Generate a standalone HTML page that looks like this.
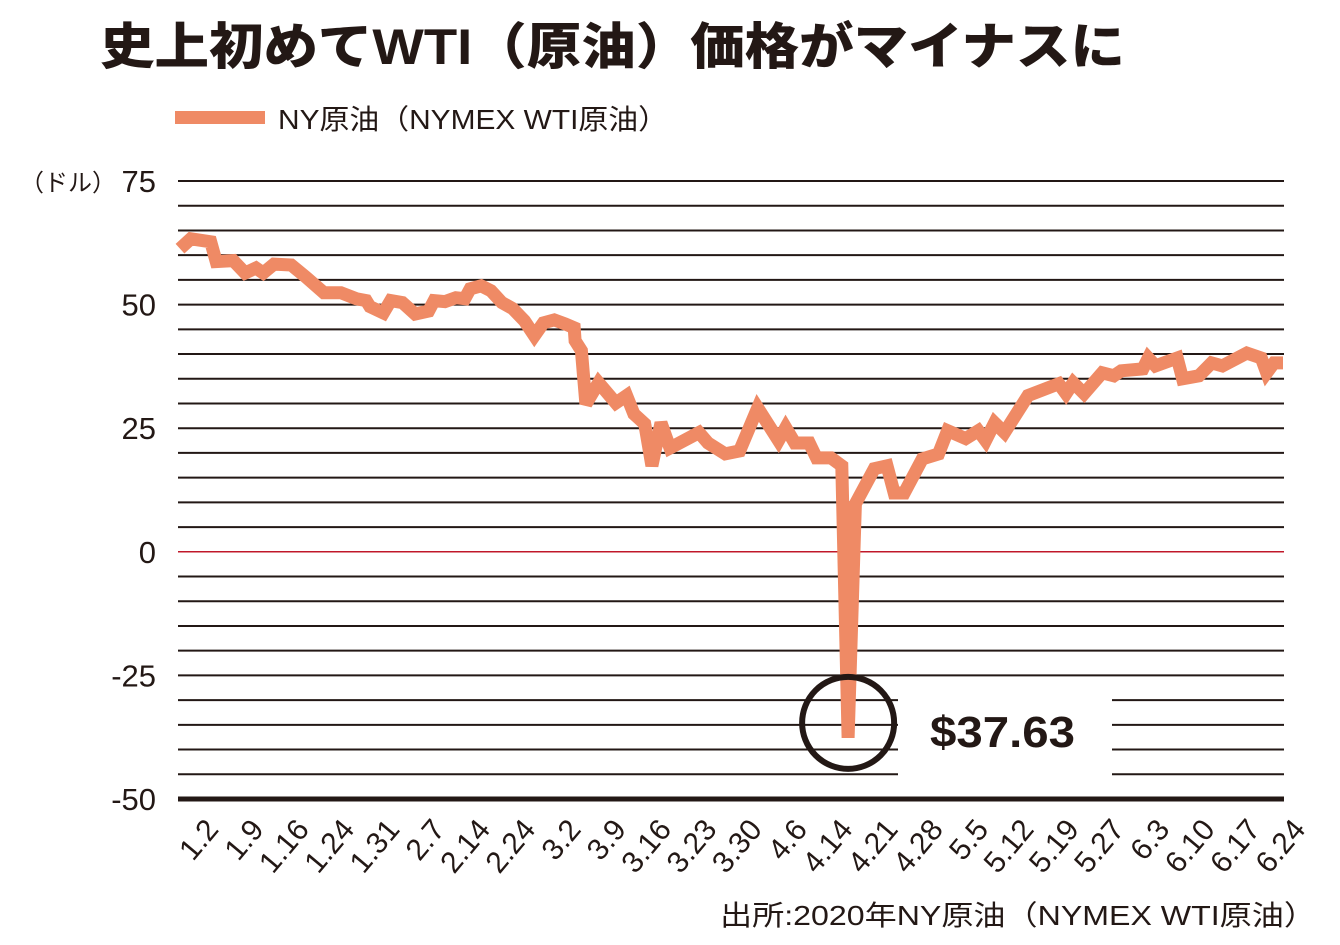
<!DOCTYPE html>
<html><head><meta charset="utf-8">
<style>
html,body{margin:0;padding:0;background:#fff;}
svg{display:block;}
text{font-family:"Liberation Sans","Noto Sans CJK JP",sans-serif;fill:#231815;}
</style></head>
<body>
<svg id="chart" width="1340" height="945" viewBox="0 0 1340 945" xmlns="http://www.w3.org/2000/svg">
<text x="100" y="64" font-size="50" font-weight="bold" style="font-family:'Liberation Sans','Noto Sans CJK JP',sans-serif;font-weight:900" textLength="1025" lengthAdjust="spacingAndGlyphs">史上初めてWTI（原油）価格がマイナスに</text>
<g>
<rect x="175" y="111" width="90" height="13" fill="#ef8a65"/>
<text x="278" y="129" font-size="28" textLength="390" lengthAdjust="spacingAndGlyphs">NY原油（NYMEX WTI原油）</text>
</g>
<text x="20" y="191" font-size="24">（ドル）</text>
<g id="grid"></g>
<g id="yticks"></g>
<g id="xticks"></g>
<g id="series"></g>
<g>
<rect x="898" y="690" width="214" height="88" fill="#fff"/>
<text x="930" y="747" font-size="44" font-weight="bold" textLength="145" lengthAdjust="spacingAndGlyphs">$37.63</text>
</g>
<text x="1316" y="925" font-size="28" text-anchor="end" textLength="596" lengthAdjust="spacingAndGlyphs">出所:2020年NY原油（NYMEX WTI原油）</text>
</svg>
<script>
const days = [0,1.2,3.4,4.0,5.9,7.2,8.4,9.2,10.4,12.3,13.9,15.9,17.8,19.5,20.6,21.0,22.5,23.3,24.6,26.0,27.5,28.1,29.3,30.5,31.5,32.1,33.3,34.4,35.6,36.8,38.1,39.2,40.2,41.4,42.6,43.6,43.7,44.4,44.9,46.3,48.2,49.4,50.2,51.4,52.2,53.2,54.2,57.4,58.4,60.3,61.9,63.9,66.2,67.0,68.0,69.6,70.4,72.0,73.2,73.9,74.7,76.8,78.2,79.0,80.1,82.1,83.9,84.9,86.9,88.3,89.1,90.1,91.2,93.8,97.2,98.0,98.8,100.0,102.0,103.3,104.1,106.5,107.1,107.9,110.3,110.9,112.7,114.1,115.3,118.0,119.6,120.2,121.0,122.0];
const prices = [61.3,63.3,62.7,58.7,58.9,56.4,57.4,56.4,58.2,58.0,55.6,52.4,52.4,51.2,50.8,49.6,48.3,50.8,50.4,48.1,48.7,50.8,50.6,51.4,51.2,53.2,53.8,52.8,50.4,49.2,46.7,43.7,46.3,46.9,46.1,45.3,42.7,40.7,29.9,34.2,30.1,31.6,27.9,25.9,17.4,26.1,21.0,24.1,22.0,19.8,20.4,29.1,22.5,25.1,22.0,22.0,19.0,19.0,17.4,-37.63,9.7,16.8,17.4,11.9,11.9,18.8,19.8,24.5,22.9,24.5,22.5,26.1,24.1,31.6,34.0,32.0,34.2,32.0,36.2,35.6,36.6,37.0,39.2,37.6,39.2,35.0,35.6,38.2,37.6,40.2,39.2,36.2,38.2,38.2];
const yTicks = [75,50,25,0,-25,-50];
const xLabels = ["1.2","1.9","1.16","1.24","1.31","2.7","2.14","2.24","3.2","3.9","3.16","3.23","3.30","4.6","4.14","4.21","4.28","5.5","5.12","5.19","5.27","6.3","6.10","6.17","6.24"];
const NS="http://www.w3.org/2000/svg";
const X0=178,X1=1284,Y75=181,Y50n=799;
function yScale(v){return Y75+(75-v)*(Y50n-Y75)/125;}
function xScale(d){return 180+d*(1283-180)/122;}
function mk(tag,attrs,parent){const e=document.createElementNS(NS,tag);for(const k in attrs)e.setAttribute(k,attrs[k]);parent.appendChild(e);return e;}
const grid=document.getElementById('grid');
for(let v=75;v>=-50;v-=5){
  let color='#231815',w=2;
  if(v===0){color='#c0182a';w=1.5;}
  if(v===-50){w=5;}
  const l=mk('line',{x1:X0,x2:X1,y1:yScale(v),y2:yScale(v),stroke:color,'stroke-width':w},grid);
  
  
}
const yt=document.getElementById('yticks');
yTicks.forEach(v=>{
  const t=mk('text',{x:156,y:yScale(v)+11,'font-size':31,'text-anchor':'end'},yt);
  t.textContent=String(v);
  
  
});
const xt=document.getElementById('xticks');
const n=xLabels.length;
xLabels.forEach((s,i)=>{
  const ax=203+i*(1290-203)/(n-1);
  const t=mk('text',{x:ax,y:816,'font-size':30,'text-anchor':'end',transform:'rotate(-50 '+ax+' 816)',dy:'22'},xt);
  t.textContent=s;
  
  
});
const ser=document.getElementById('series');
const pts=days.map((d,i)=>xScale(d).toFixed(1)+','+yScale(prices[i]).toFixed(1)).join(' ');
const pl=mk('polyline',{points:pts,fill:'none',stroke:'#ef8a65','stroke-width':13,'stroke-linejoin':'miter','stroke-miterlimit':3},ser);


let mi=0;prices.forEach((p,i)=>{if(p<prices[mi])mi=i;});
const c=mk('circle',{cx:xScale(days[mi]),cy:yScale(prices[mi])-15,r:46,fill:'none',stroke:'#231815','stroke-width':6},ser);


</script>
</body></html>
